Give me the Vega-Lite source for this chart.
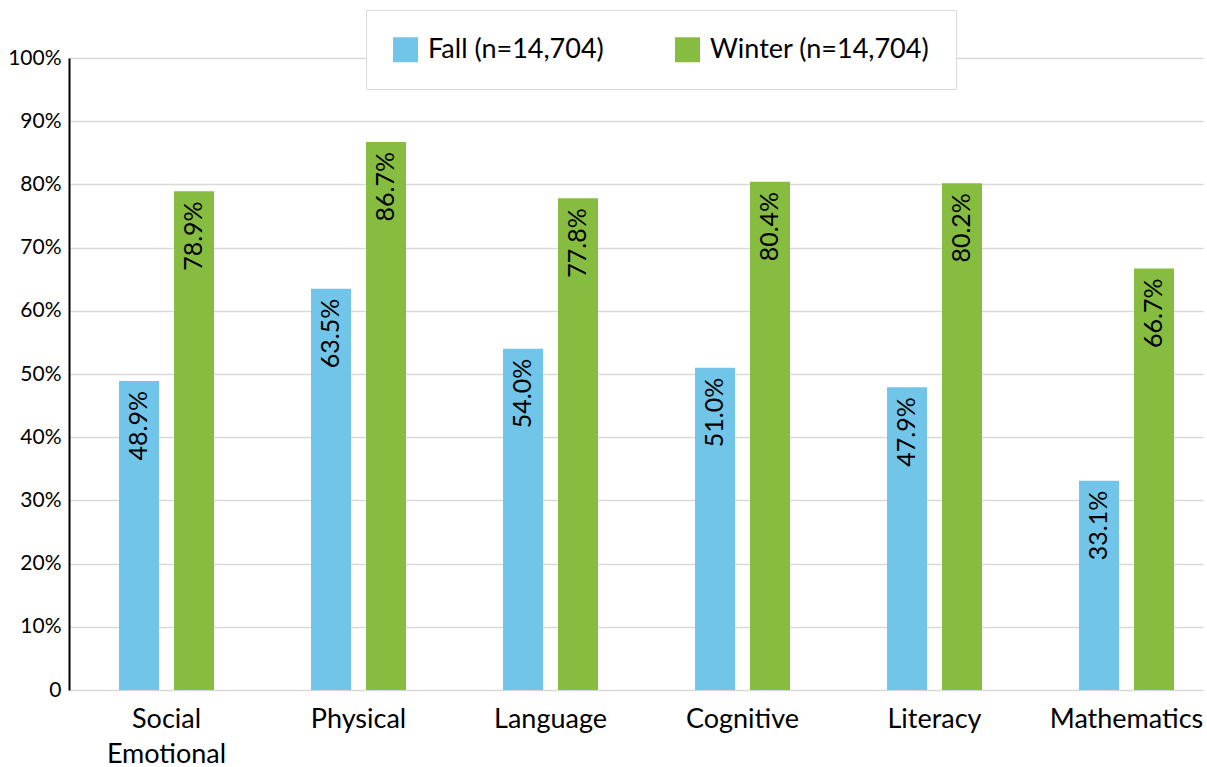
{
  "$schema": "https://vega.github.io/schema/vega-lite/v6.json",
  "width": 1134,
  "height": 632,
  "autosize": {"type": "none"},
  "padding": {"left": 69, "top": 58, "right": 4, "bottom": 77},
  "background": "white",
  "config": {
    "font": "Lato",
    "view": {"stroke": null}
  },
  "data": {
    "values": [
      {"domain": "Social Emotional", "season": "Fall (n=14,704)", "value": 0.489},
      {"domain": "Social Emotional", "season": "Winter (n=14,704)", "value": 0.789},
      {"domain": "Physical", "season": "Fall (n=14,704)", "value": 0.635},
      {"domain": "Physical", "season": "Winter (n=14,704)", "value": 0.867},
      {"domain": "Language", "season": "Fall (n=14,704)", "value": 0.540},
      {"domain": "Language", "season": "Winter (n=14,704)", "value": 0.778},
      {"domain": "Cognitive", "season": "Fall (n=14,704)", "value": 0.510},
      {"domain": "Cognitive", "season": "Winter (n=14,704)", "value": 0.804},
      {"domain": "Literacy", "season": "Fall (n=14,704)", "value": 0.479},
      {"domain": "Literacy", "season": "Winter (n=14,704)", "value": 0.802},
      {"domain": "Mathematics", "season": "Fall (n=14,704)", "value": 0.331},
      {"domain": "Mathematics", "season": "Winter (n=14,704)", "value": 0.667}
    ]
  },
  "encoding": {
    "x": {
      "field": "domain",
      "type": "nominal",
      "sort": ["Social Emotional", "Physical", "Language", "Cognitive", "Literacy", "Mathematics"],
      "scale": {"paddingInner": 0.505, "paddingOuter": 0.2057, "align": 0.633},
      "axis": {
        "title": null,
        "domain": false,
        "ticks": false,
        "labelAngle": 0,
        "labelFont": "Lato",
        "labelFontSize": 27,
        "labelColor": "#000000",
        "labelPadding": 16,
        "labelLineHeight": 35,
        "labelLimit": 300,
        "labelExpr": "datum.label == 'Social Emotional' ? ['Social', 'Emotional'] : datum.label"
      }
    },
    "xOffset": {
      "field": "season",
      "type": "nominal",
      "sort": ["Fall (n=14,704)", "Winter (n=14,704)"],
      "scale": {"paddingInner": 0.2727, "paddingOuter": 0}
    }
  },
  "layer": [
    {
      "mark": {"type": "bar"},
      "encoding": {
        "y": {
          "field": "value",
          "type": "quantitative",
          "scale": {"domain": [0, 1], "nice": false},
          "axis": {
            "title": null,
            "values": [0, 0.1, 0.2, 0.3, 0.4, 0.5, 0.6, 0.7, 0.8, 0.9, 1],
            "format": ".0%",
            "labelExpr": "datum.value == 0 ? '0' : datum.label",
            "labelFont": "Lato",
            "labelFontSize": 21,
            "labelColor": "#000000",
            "labelPadding": 8,
            "ticks": false,
            "domain": true,
            "domainColor": "#000000",
            "domainWidth": 2,
            "grid": true,
            "gridColor": "#D9D9D9",
            "gridWidth": 1.5
          }
        },
        "color": {
          "field": "season",
          "type": "nominal",
          "sort": ["Fall (n=14,704)", "Winter (n=14,704)"],
          "scale": {"range": ["#71C5E8", "#86BD40"]},
          "legend": {
            "title": null,
            "orient": "none",
            "legendX": 297,
            "legendY": -48,
            "direction": "horizontal",
            "padding": 26,
            "strokeColor": "#D9D9D9",
            "fillColor": "#FFFFFF",
            "symbolType": "square",
            "symbolSize": 625,
            "symbolStrokeWidth": 0,
            "symbolOpacity": 1,
            "labelFont": "Lato",
            "labelFontSize": 27,
            "labelColor": "#000000",
            "labelOffset": 9,
            "labelLimit": 400,
            "columnPadding": 70
          }
        }
      }
    },
    {
      "mark": {
        "type": "text",
        "angle": 270,
        "align": "right",
        "baseline": "middle",
        "dx": -10,
        "font": "Lato",
        "fontSize": 25,
        "color": "#000000"
      },
      "encoding": {
        "y": {"field": "value", "type": "quantitative"},
        "text": {"field": "value", "type": "quantitative", "format": ".1%"}
      }
    },
    {
      "mark": {"type": "rule", "color": "#000000", "strokeWidth": 2},
      "encoding": {"y": {"datum": 0}}
    }
  ]
}
